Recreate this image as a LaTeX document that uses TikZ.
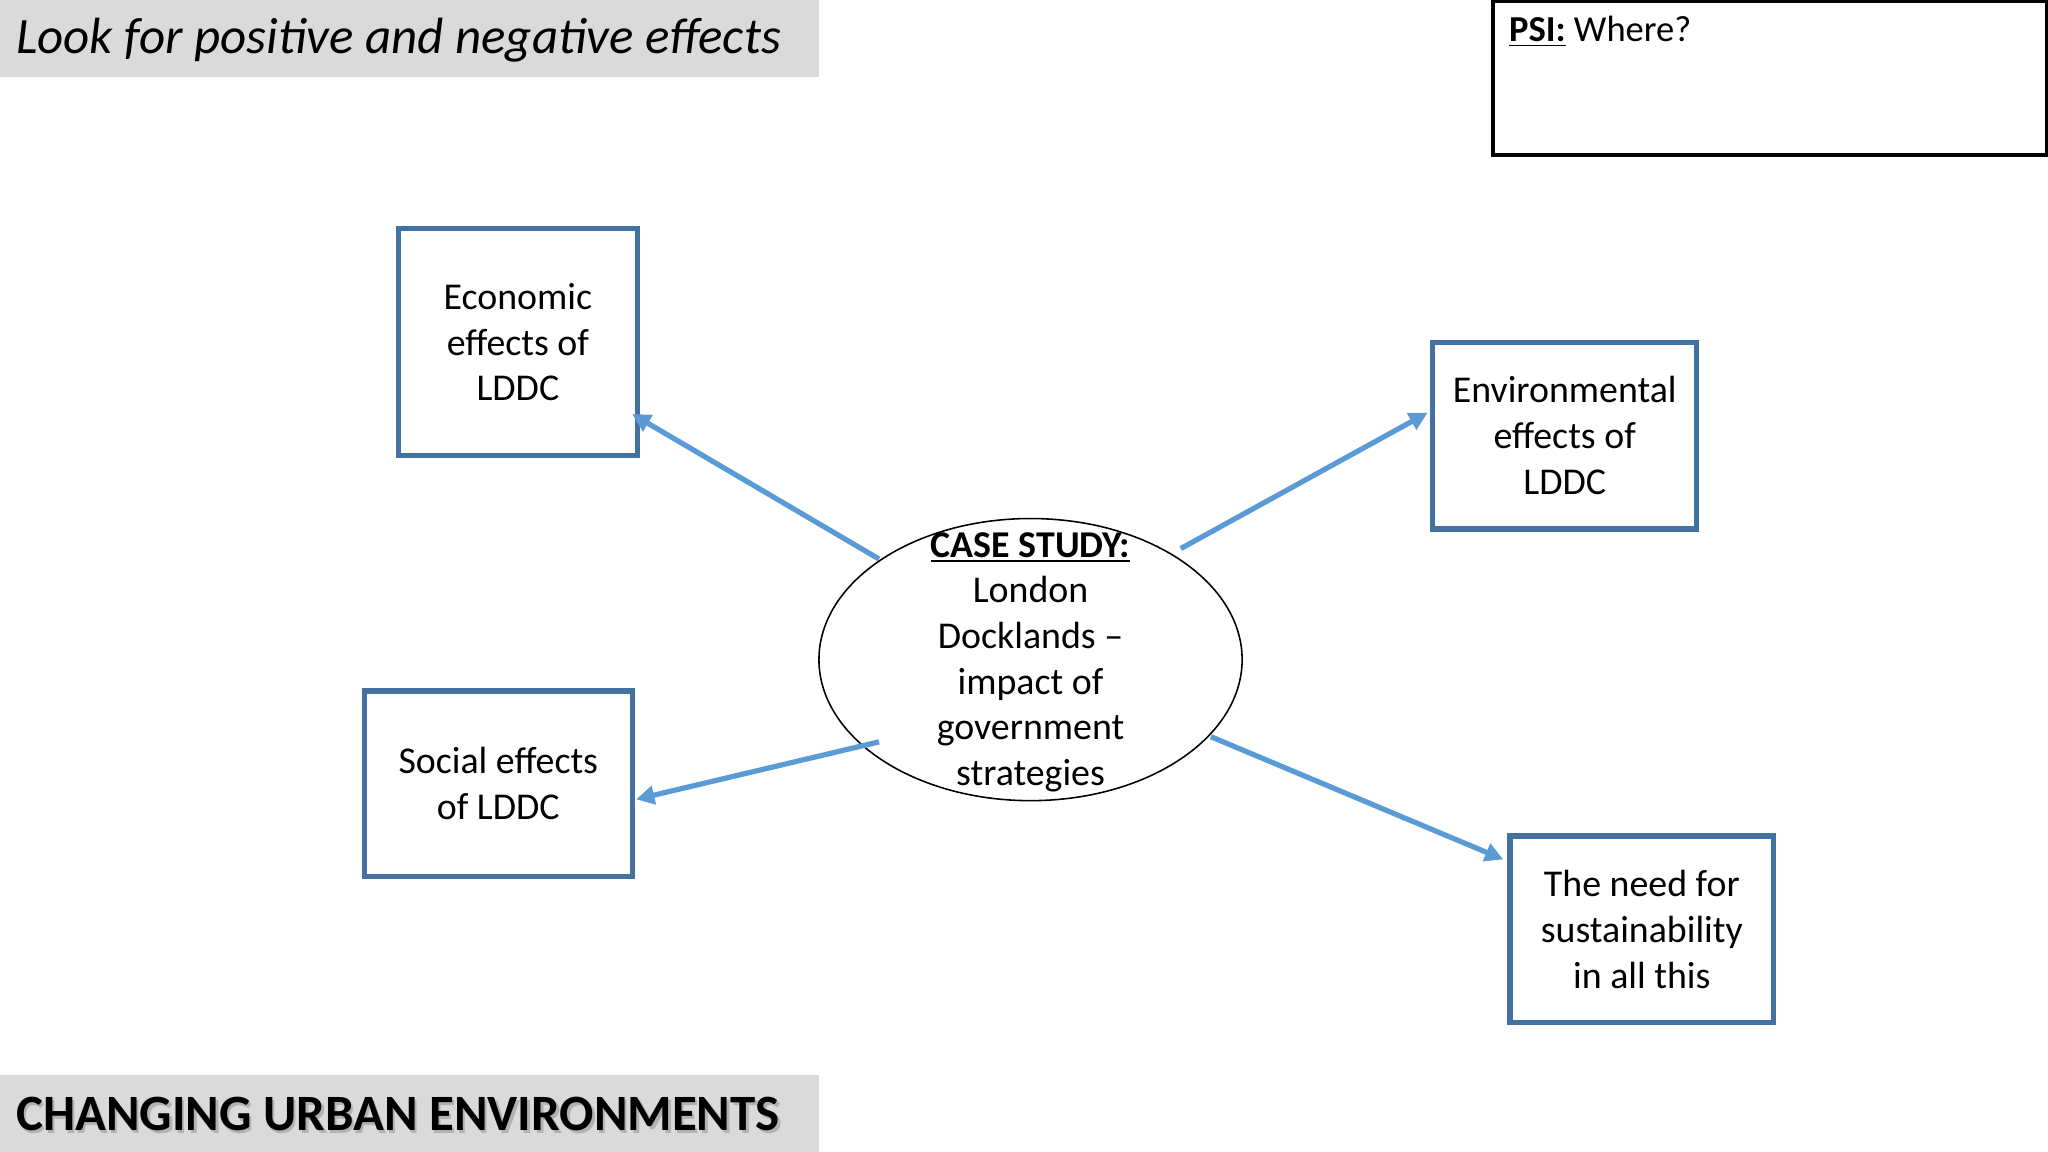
\documentclass[tikz,border=0pt]{standalone}
\usepackage{fontspec}
\setmainfont{Carlito}
\usetikzlibrary{shapes.geometric,arrows.meta}
\definecolor{boxb}{RGB}{68,114,160}
\definecolor{arr}{RGB}{91,155,213}
\definecolor{bar}{RGB}{218,218,218}
\begin{document}
\begin{tikzpicture}[x=0.5pt,y=-0.5pt,
  box/.style={draw=boxb,line width=2pt,align=center,font=\fontsize{14.5}{17.5}\selectfont,inner sep=0},
  con/.style={draw=arr,line width=2pt,-{Triangle[length=7pt,width=7pt]}}]
\useasboundingbox (0,0) rectangle (1568,882);
\fill[white] (0,0) rectangle (1568,882);
\fill[bar] (0,0) rectangle (627,59);
\node[anchor=west,font=\fontsize{19.5}{22}\itshape,inner sep=0] (t1) at (12,31) {Look for positive and negative effects};
\fill[bar] (0,823) rectangle (627,882);
\node[anchor=west,font=\fontsize{19.5}{22}\bfseries,text=gray!60,inner sep=0] at (14,855) {CHANGING URBAN ENVIRONMENTS};
\node[anchor=west,font=\fontsize{19.5}{22}\bfseries,inner sep=0] (t2) at (12,853) {CHANGING URBAN ENVIRONMENTS};
\draw[line width=1.5pt] (1143,1) rectangle (1567,119);
\node[anchor=west,font=\fontsize{14}{16}\selectfont,inner sep=0] (psi) at (1155,24) {\textbf{\underline{PSI:}} Where?};
\node[box,minimum width=91.5pt,minimum height=87pt] (econ) at (396.5,262) {Economic\\effects of\\LDDC};
\node[box,minimum width=101pt,minimum height=71.5pt] (env) at (1198,333.5) {Environmental\\effects of\\LDDC};
\node[box,minimum width=102.5pt,minimum height=71pt] (soc) at (381.5,600) {Social effects\\of LDDC};
\node[box,minimum width=101pt,minimum height=71.5pt] (sus) at (1257,711.5) {The need for\\sustainability\\in all this};
\node[draw,ellipse,line width=0.6pt,minimum width=162pt,minimum height=108pt,inner sep=0] (cs) at (789,505) {};
\node[align=center,font=\fontsize{14.5}{17.5}\selectfont] (cst) at (789,507) {\textbf{\underline{CASE STUDY:}}\\London\\Docklands --\\impact of\\government\\strategies};
\coordinate (a1) at (673,428); \coordinate (e1) at (484,317);
\coordinate (a2) at (904,420); \coordinate (e2) at (1093,316);
\coordinate (a3) at (673,568); \coordinate (e3) at (487,612);
\coordinate (a4) at (927,564); \coordinate (e4) at (1151,658);
\draw[con] (a1) -- (e1);
\draw[con] (a2) -- (e2);
\draw[con] (a3) -- (e3);
\draw[con] (a4) -- (e4);
\end{tikzpicture}
\end{document}
